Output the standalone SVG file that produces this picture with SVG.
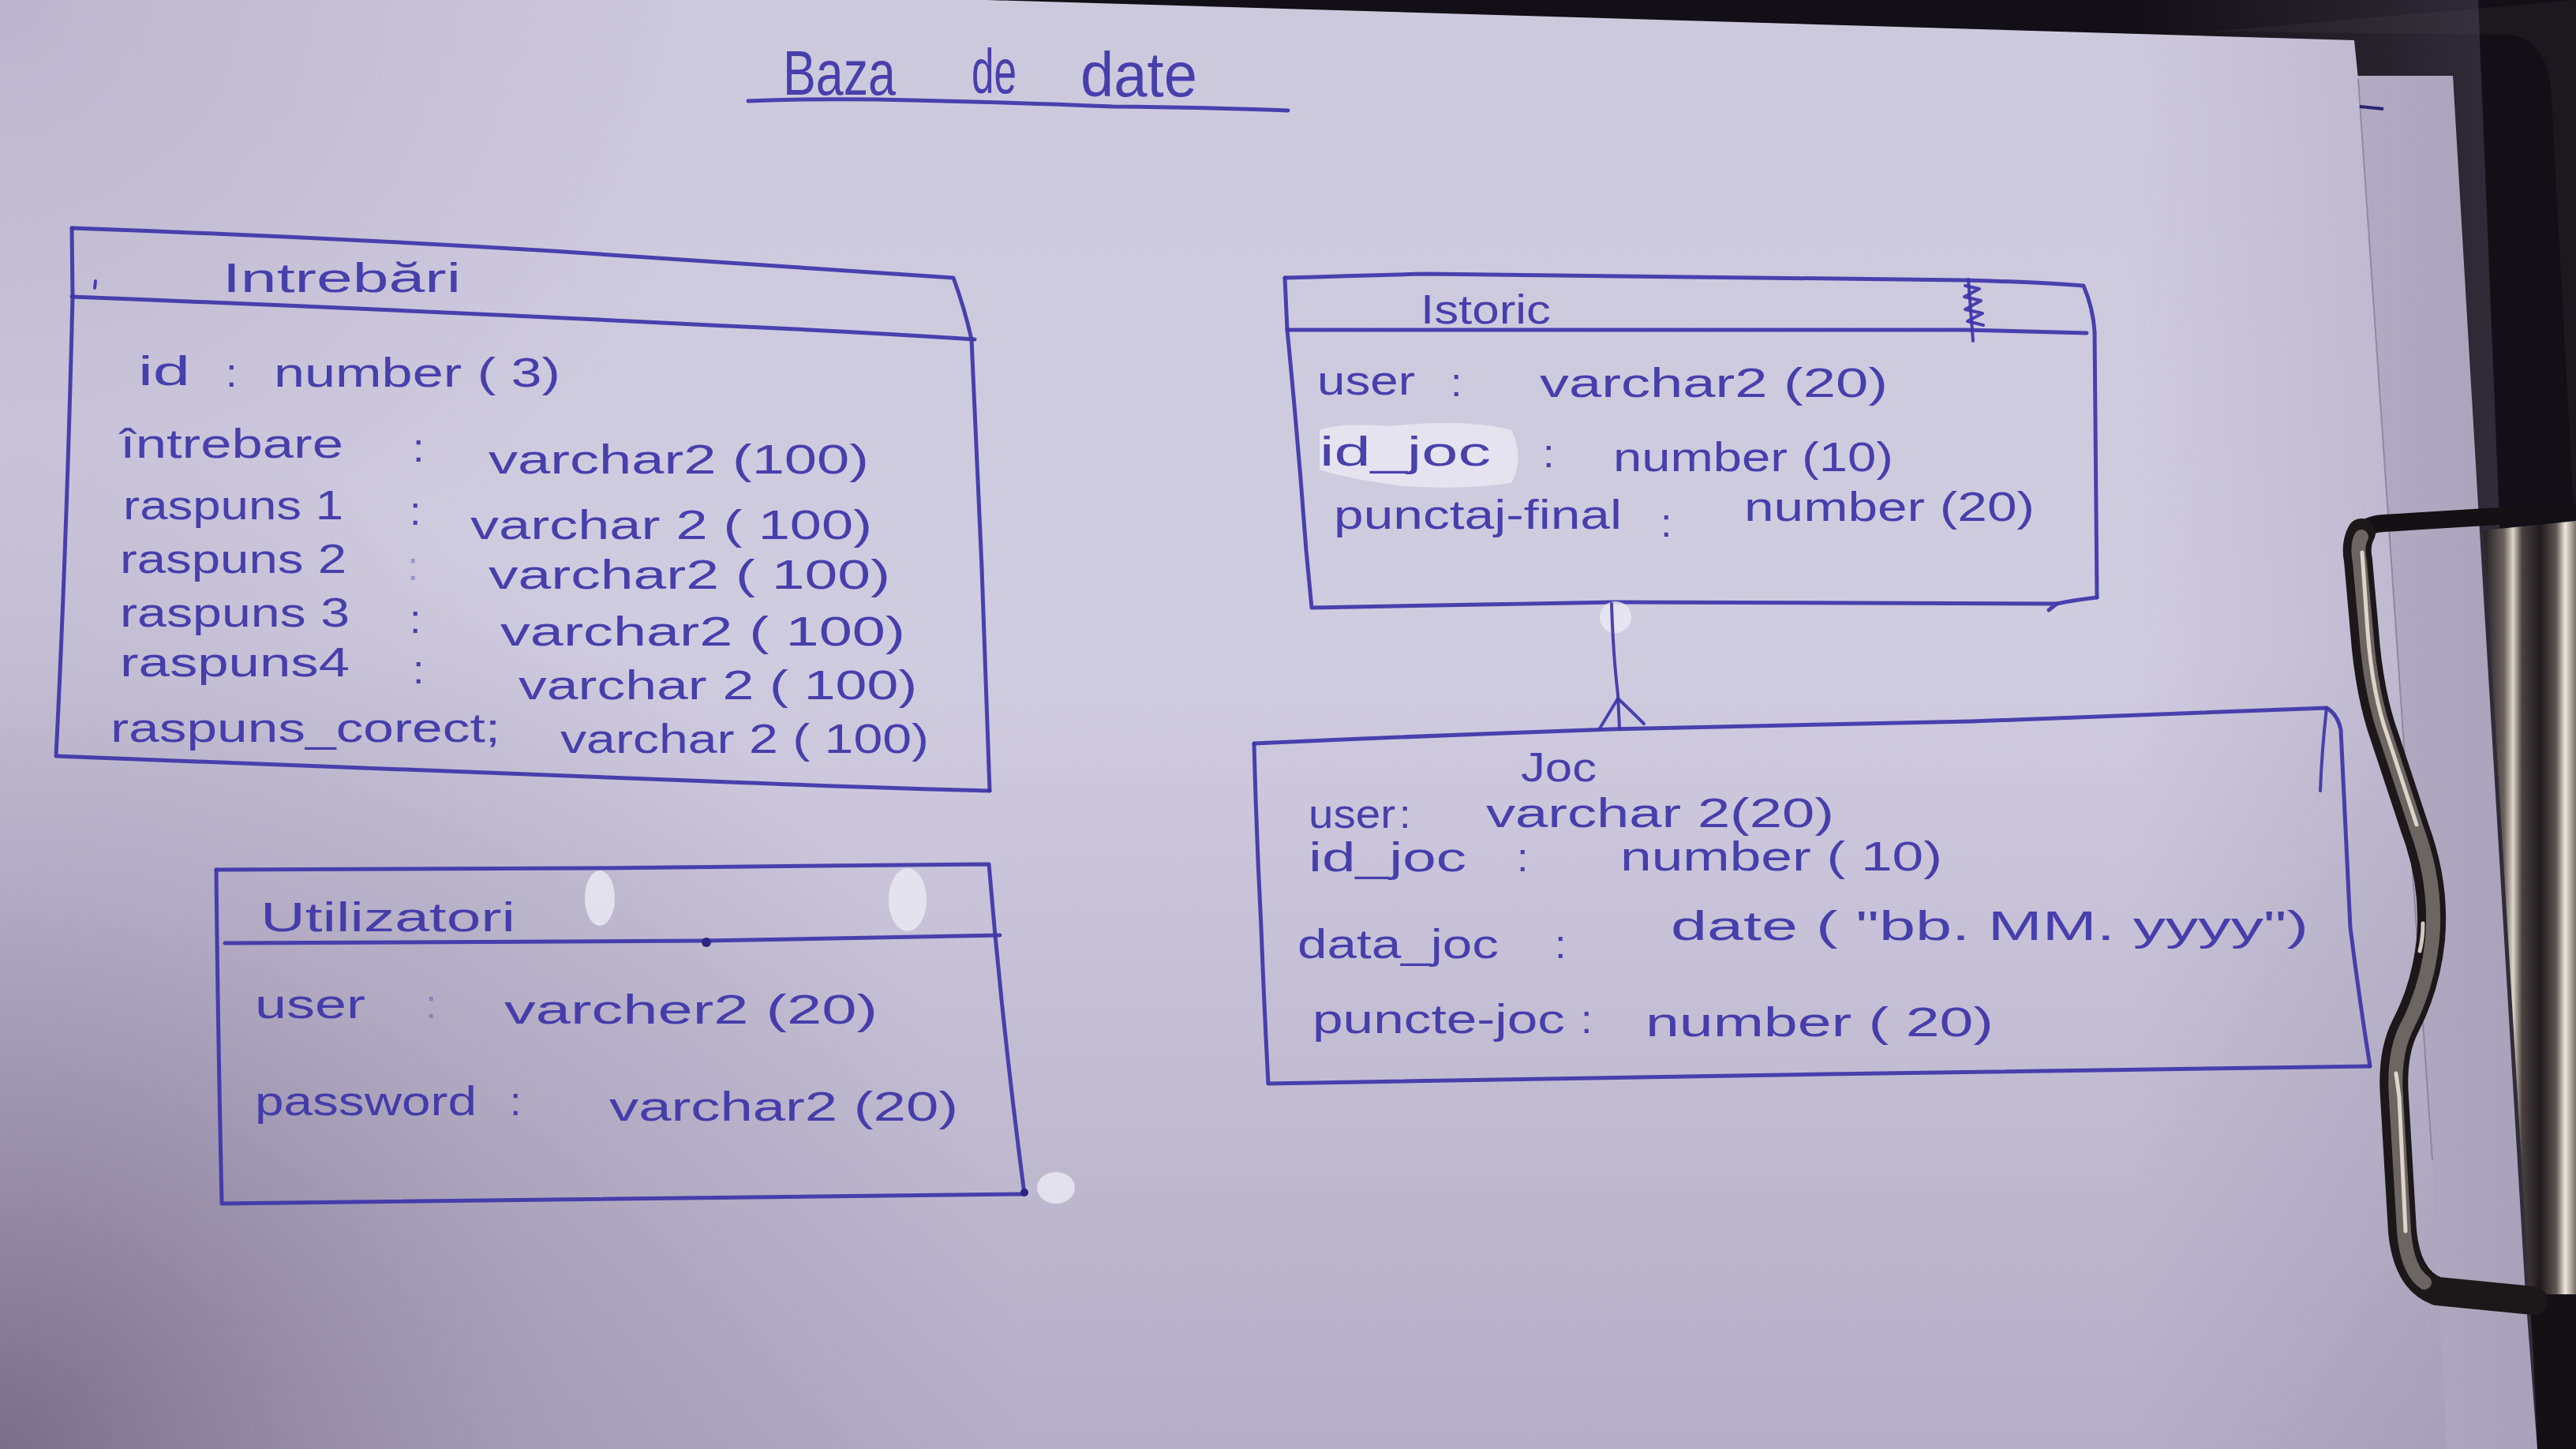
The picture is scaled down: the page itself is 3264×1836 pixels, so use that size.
<svg xmlns="http://www.w3.org/2000/svg" width="3264" height="1836" viewBox="0 0 3264 1836">
  <defs>
    <style>
      .ink { fill: none; stroke: #3d34a8; stroke-width: 5; stroke-linecap: round; stroke-linejoin: round; opacity: 0.92; }
      .thin { stroke-width: 4; }
      .hand { font-family: "Liberation Sans", "DejaVu Sans", sans-serif; fill: #3d34a8; font-size: 52px; opacity: 0.92; }
      .ttl { font-size: 80px; }
      .faint { opacity: 0.35; }
      .blob { fill: #e9e7f2; opacity: 0.85; }
    </style>
    <linearGradient id="paperV" x1="0" y1="0" x2="0" y2="1">
      <stop offset="0" stop-color="#cdc9dd"/>
      <stop offset="0.45" stop-color="#d0cce0"/>
      <stop offset="1" stop-color="#b5aec6"/>
    </linearGradient>
    <radialGradient id="shadeBL" cx="0" cy="1836" r="1300" gradientUnits="userSpaceOnUse">
      <stop offset="0" stop-color="#6f6380" stop-opacity="0.85"/>
      <stop offset="0.55" stop-color="#8a7f9c" stop-opacity="0.35"/>
      <stop offset="1" stop-color="#8a7f9c" stop-opacity="0"/>
    </radialGradient>
    <radialGradient id="shadeTL" cx="0" cy="0" r="900" gradientUnits="userSpaceOnUse">
      <stop offset="0" stop-color="#a89fbb" stop-opacity="0.45"/>
      <stop offset="1" stop-color="#a89fbb" stop-opacity="0"/>
    </radialGradient>
    <linearGradient id="shadeR" x1="2700" y1="0" x2="3200" y2="0" gradientUnits="userSpaceOnUse">
      <stop offset="0" stop-color="#7d7390" stop-opacity="0"/>
      <stop offset="1" stop-color="#7d7390" stop-opacity="0.3"/>
    </linearGradient>
    <linearGradient id="hinge" x1="3150" y1="0" x2="3264" y2="0" gradientUnits="userSpaceOnUse">
      <stop offset="0" stop-color="#2c2629"/>
      <stop offset="0.2" stop-color="#6b625e"/>
      <stop offset="0.3" stop-color="#ddd5c8"/>
      <stop offset="0.4" stop-color="#4a4240"/>
      <stop offset="0.6" stop-color="#1f1a1c"/>
      <stop offset="0.78" stop-color="#5e5552"/>
      <stop offset="0.88" stop-color="#efe9dd"/>
      <stop offset="1" stop-color="#7a706a"/>
    </linearGradient>
  </defs>

  <!-- table / clipboard behind the sheets -->
  <rect x="0" y="0" width="3264" height="1836" fill="#121016"/>
  <path d="M2800,40 L3180,44 Q3225,50 3232,110 L3264,700 L3264,0 Z" fill="#1b191e"/>

  <!-- second sheet peeking out on the right -->
  <path d="M2980,96 L3108,96 L3140,640 L3200,1640 L3215,1836 L2980,1836 Z" fill="#bdb6cc"/>

  <!-- top sheet -->
  <path d="M0,0 L1250,0 L2983,51 L2990,120 L3082,1470 L3100,1836 L0,1836 Z" fill="url(#paperV)"/>
  <path d="M0,0 L1250,0 L2983,51 L2990,120 L3082,1470 L3100,1836 L0,1836 Z" fill="url(#shadeBL)"/>
  <path d="M0,0 L1250,0 L2983,51 L2990,120 L3082,1470 L3100,1836 L0,1836 Z" fill="url(#shadeTL)"/>
  <path d="M2700,0 L3140,0 L3215,1836 L2700,1836 Z" fill="url(#shadeR)"/>
  <line x1="2988" y1="100" x2="3082" y2="1470" stroke="#7f7792" stroke-width="2" opacity="0.7"/>
  <line x1="2990" y1="135" x2="3020" y2="138" stroke="#2a2470" stroke-width="4"/>

  <!-- title -->
  <g id="title">
    <text class="hand ttl" x="992" y="120" textLength="143" lengthAdjust="spacingAndGlyphs">Baza</text>
    <text class="hand ttl" x="1231" y="118" textLength="57" lengthAdjust="spacingAndGlyphs">de</text>
    <text class="hand ttl" x="1369" y="122" textLength="148" lengthAdjust="spacingAndGlyphs">date</text>
    <path class="ink" d="M948,128 Q1050,124 1155,127 Q1290,130 1410,135 Q1530,136 1632,140"/>
  </g>

  <!-- table Intrebari -->
  <g id="intrebari">
    <path class="ink" d="M91,289 Q400,300 700,318 Q960,335 1208,352 Q1222,390 1231,430 L1244,720 Q1250,880 1254,1002"/>
    <path class="ink" d="M91,289 L92,376 Q84,700 71,958 Q500,975 900,990 Q1100,998 1254,1002"/>
    <path class="ink" d="M91,376 Q500,392 900,412 Q1080,420 1235,430"/>
    <path class="ink thin" d="M121,356 L120,365"/>
    <text class="hand" x="282" y="370" font-size="86" textLength="302" lengthAdjust="spacingAndGlyphs">Intrebări</text>
    <text class="hand" x="175" y="488" textLength="66" lengthAdjust="spacingAndGlyphs">id</text>
    <text class="hand" x="286" y="490">:</text>
    <text class="hand" x="347" y="490" textLength="363" lengthAdjust="spacingAndGlyphs">number ( 3)</text>
    <text class="hand" x="152" y="580" textLength="283" lengthAdjust="spacingAndGlyphs">întrebare</text>
    <text class="hand" x="523" y="585">:</text>
    <text class="hand" x="619" y="600" textLength="482" lengthAdjust="spacingAndGlyphs">varchar2 (100)</text>
    <text class="hand" x="156" y="658" textLength="279" lengthAdjust="spacingAndGlyphs">raspuns 1</text>
    <text class="hand" x="519" y="665">:</text>
    <text class="hand" x="596" y="683" textLength="509" lengthAdjust="spacingAndGlyphs">varchar 2 ( 100)</text>
    <text class="hand" x="152" y="726" textLength="287" lengthAdjust="spacingAndGlyphs">raspuns 2</text>
    <text class="hand faint" x="516" y="735">:</text>
    <text class="hand" x="619" y="746" textLength="509" lengthAdjust="spacingAndGlyphs">varchar2 ( 100)</text>
    <text class="hand" x="152" y="794" textLength="291" lengthAdjust="spacingAndGlyphs">raspuns 3</text>
    <text class="hand" x="519" y="802">:</text>
    <text class="hand" x="634" y="818" textLength="513" lengthAdjust="spacingAndGlyphs">varchar2 ( 100)</text>
    <text class="hand" x="152" y="857" textLength="291" lengthAdjust="spacingAndGlyphs">raspuns4</text>
    <text class="hand" x="523" y="866">:</text>
    <text class="hand" x="657" y="886" textLength="505" lengthAdjust="spacingAndGlyphs">varchar 2 ( 100)</text>
    <text class="hand" x="140" y="940" textLength="494" lengthAdjust="spacingAndGlyphs">raspuns_corect;</text>
    <text class="hand" x="710" y="954" textLength="467" lengthAdjust="spacingAndGlyphs">varchar 2 ( 100)</text>
  </g>

  <!-- table Utilizatori -->
  <g id="utilizatori">
    <path class="ink" d="M274,1102 Q500,1101 751,1100 Q1000,1098 1253,1095 Q1270,1300 1298,1513"/>
    <path class="ink" d="M274,1102 Q276,1300 281,1525 Q800,1518 1298,1513"/>
    <path class="ink" d="M285,1195 Q600,1194 891,1192 Q1080,1188 1267,1185"/>
    <circle cx="895" cy="1194" r="6" fill="#2c2480"/>
    <circle cx="1298" cy="1511" r="5" fill="#2c2480"/>
    <ellipse class="blob" cx="760" cy="1138" rx="19" ry="35"/>
    <ellipse class="blob" cx="1150" cy="1140" rx="24" ry="40"/>
    <ellipse class="blob" cx="1338" cy="1505" rx="24" ry="20"/>
    <text class="hand" x="330" y="1180" font-size="76" textLength="323" lengthAdjust="spacingAndGlyphs">Utilizatori</text>
    <text class="hand" x="323" y="1290" textLength="140" lengthAdjust="spacingAndGlyphs">user</text>
    <text class="hand faint" x="539" y="1290">:</text>
    <text class="hand" x="639" y="1297" textLength="473" lengthAdjust="spacingAndGlyphs">varcher2 (20)</text>
    <text class="hand" x="323" y="1413" textLength="281" lengthAdjust="spacingAndGlyphs">password</text>
    <text class="hand" x="646" y="1413">:</text>
    <text class="hand" x="772" y="1420" textLength="442" lengthAdjust="spacingAndGlyphs">varchar2 (20)</text>
  </g>

  <!-- table Istoric -->
  <g id="istoric">
    <path class="ink" d="M1628,352 Q1720,349 1807,347 Q2150,350 2489,355 Q2570,357 2640,362 Q2652,390 2654,420 L2657,757"/>
    <path class="ink" d="M1628,352 L1631,418 Q1645,560 1655,697 L1662,770 Q1850,766 2041,763 Q2330,764 2606,765 L2596,773"/>
    <path class="ink" d="M2606,765 Q2630,760 2657,757"/>
    <path class="ink" d="M1631,418 Q2060,418 2489,418 Q2570,420 2644,422"/>
    <path class="ink thin" d="M2494,354 L2500,432"/>
    <path class="ink thin" d="M2490,362 L2508,366 L2489,376 L2510,381 L2490,392 L2512,397 L2493,407 L2513,412"/>
    <text class="hand" x="1800" y="410" font-size="62" textLength="165" lengthAdjust="spacingAndGlyphs">Istoric</text>
    <path class="blob" d="M1672,545 Q1700,535 1760,540 Q1860,530 1915,545 Q1932,580 1915,612 Q1840,622 1770,615 Q1700,605 1672,595 Z"/>
    <text class="hand" x="1669" y="500" textLength="124" lengthAdjust="spacingAndGlyphs">user</text>
    <text class="hand" x="1838" y="502">:</text>
    <text class="hand" x="1951" y="503" textLength="441" lengthAdjust="spacingAndGlyphs">varchar2 (20)</text>
    <text class="hand" x="1672" y="590" textLength="217" lengthAdjust="spacingAndGlyphs">id_joc</text>
    <text class="hand" x="1955" y="592">:</text>
    <text class="hand" x="2044" y="597" textLength="355" lengthAdjust="spacingAndGlyphs">number (10)</text>
    <text class="hand" x="1690" y="670" textLength="365" lengthAdjust="spacingAndGlyphs">punctaj-final</text>
    <text class="hand" x="2104" y="680">:</text>
    <text class="hand" x="2210" y="660" textLength="368" lengthAdjust="spacingAndGlyphs">number (20)</text>
  </g>

  <!-- table Joc -->
  <g id="joc">
    <path class="ink" d="M1589,942 Q1810,932 2039,924 Q2270,918 2498,914 Q2720,905 2948,897 Q2962,905 2966,925 Q2972,1040 2978,1175 Q2990,1270 3003,1351"/>
    <path class="ink thin" d="M2948,897 Q2942,950 2940,1002"/>
    <path class="ink" d="M1589,942 Q1592,1060 1598,1175 Q1602,1280 1607,1373 Q1960,1366 2314,1361 Q2660,1356 3003,1351"/>
    <text class="hand" x="1927" y="990" font-size="62" textLength="96" lengthAdjust="spacingAndGlyphs">Joc</text>
    <text class="hand" x="1658" y="1049" textLength="110" lengthAdjust="spacingAndGlyphs">user</text>
    <text class="hand" x="1773" y="1049">:</text>
    <text class="hand" x="1883" y="1048" font-size="46" textLength="441" lengthAdjust="spacingAndGlyphs">varchar 2(20)</text>
    <text class="hand" x="1658" y="1104" textLength="200" lengthAdjust="spacingAndGlyphs">id_joc</text>
    <text class="hand" x="1922" y="1104">:</text>
    <text class="hand" x="2053" y="1103" font-size="48" textLength="408" lengthAdjust="spacingAndGlyphs">number ( 10)</text>
    <text class="hand" x="1644" y="1214" textLength="255" lengthAdjust="spacingAndGlyphs">data_joc</text>
    <text class="hand" x="1970" y="1214">:</text>
    <text class="hand" x="2117" y="1191" textLength="808" lengthAdjust="spacingAndGlyphs">date ( "bb. MM. yyyy")</text>
    <text class="hand" x="1663" y="1309" textLength="320" lengthAdjust="spacingAndGlyphs">puncte-joc</text>
    <text class="hand" x="2003" y="1309">:</text>
    <text class="hand" x="2085" y="1313" textLength="441" lengthAdjust="spacingAndGlyphs">number ( 20)</text>
  </g>

  <!-- relationship Istoric 1 — many Joc -->
  <g id="connectors">
    <ellipse class="blob" cx="2047" cy="782" rx="20" ry="20"/>
    <path class="ink thin" d="M2042,765 Q2044,830 2050,880 L2052,923"/>
    <path class="ink thin" d="M2050,885 L2027,923"/>
    <path class="ink thin" d="M2050,885 Q2066,900 2083,917"/>
  </g>

  <!-- clipboard clip -->
  <g id="clip">
    <path d="M3147,672 L3264,660 L3264,1640 L3205,1640 Z" fill="url(#hinge)"/>
    <path d="M3205,1640 L3264,1640 L3264,1836 L3218,1836 Z" fill="#141115"/>
    <path d="M2992,675 Q3000,664 3020,663 L3264,648" fill="none" stroke="#141115" stroke-width="22" stroke-linecap="round"/>
    <path d="M2992,675 Q2984,690 2988,710 L2996,800 Q3002,880 3022,935 L3060,1050 Q3086,1120 3080,1190 Q3074,1250 3048,1300 Q3030,1335 3034,1390 L3044,1560 Q3050,1622 3088,1636 L3210,1648" fill="none" stroke="#1c1719" stroke-width="36" stroke-linecap="round" stroke-linejoin="round"/>
    <path d="M2992,680 Q2986,692 2990,712 L2998,800 Q3004,880 3024,935 L3062,1050 Q3088,1120 3082,1190 Q3076,1250 3050,1300 Q3032,1335 3036,1390 L3046,1560 Q3050,1610 3072,1625" fill="none" stroke="#6d6562" stroke-width="18" stroke-linecap="round" stroke-linejoin="round"/>
    <path d="M2993,700 L3000,800 Q3006,880 3026,935 L3062,1045 M3070,1170 Q3070,1190 3066,1205 M3036,1360 L3040,1390 L3048,1560" fill="none" stroke="#efe9de" stroke-width="5" stroke-linecap="round" opacity="0.85"/>
  </g>
</svg>
